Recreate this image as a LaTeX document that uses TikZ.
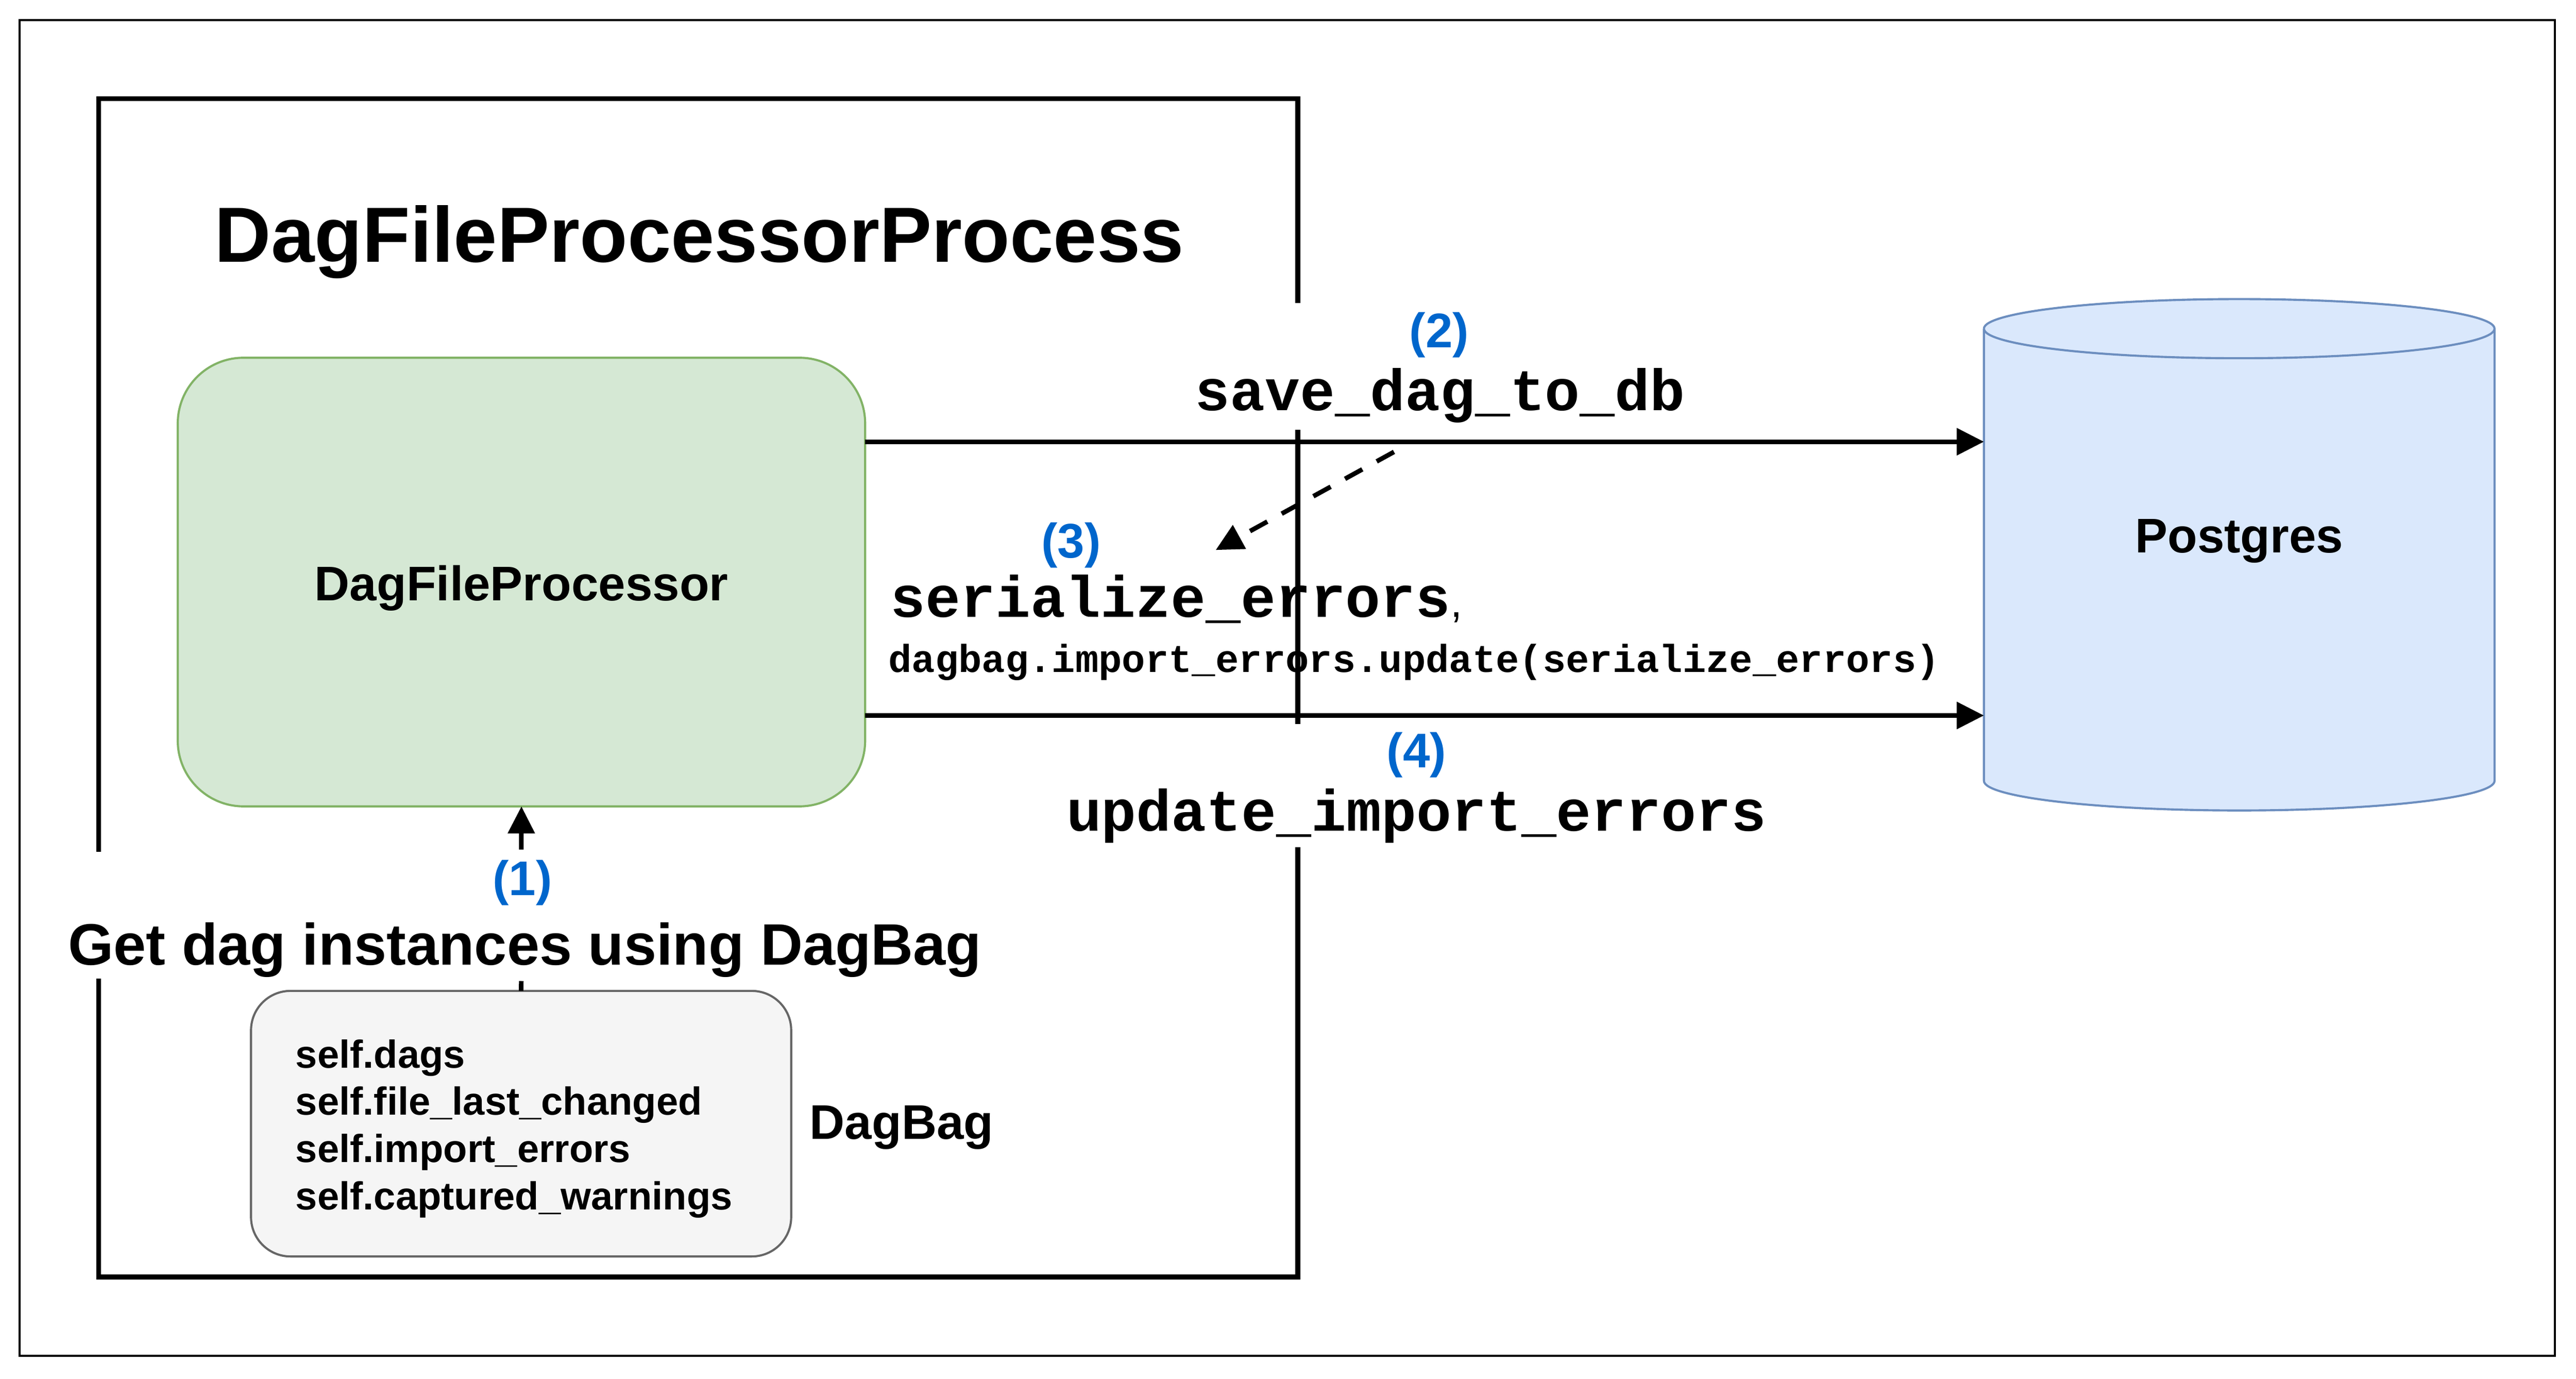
\documentclass[tikz,border=0pt]{standalone}
\usepackage{fontspec}
\setmainfont{Liberation Sans}
\newfontfamily\codefont{Liberation Mono}
\usetikzlibrary{arrows.meta}
\pgfdeclarelayer{background}
\pgfsetlayers{background,main}
\definecolor{greenfill}{HTML}{D5E8D4}
\definecolor{greenline}{HTML}{82B366}
\definecolor{bluefill}{HTML}{DAE8FC}
\definecolor{blueline}{HTML}{6C8EBF}
\definecolor{grayfill}{HTML}{F5F5F5}
\definecolor{grayline}{HTML}{666666}
\definecolor{stepblue}{HTML}{0066CC}
\begin{document}
\begin{tikzpicture}[x=1pt,y=-1pt,
  every node/.style={inner sep=0pt,outer sep=0pt},
  frame/.style={line width=3pt,line join=miter,line cap=rect},
  arr/.style={line width=2.8pt,-{Triangle[length=16.5pt,width=16pt]}},
  plainline/.style={line width=2.8pt},
  sanslabel/.style={font=\bfseries\fontsize{29.6pt}{35pt}\selectfont},
  steplabel/.style={font=\bfseries\fontsize{29.6pt}{35pt}\selectfont,text=stepblue},
  codebig/.style={font=\codefont\bfseries\fontsize{35.5pt}{42pt}\selectfont},
  codesmall/.style={font=\codefont\bfseries\fontsize{23.7pt}{28pt}\selectfont},
  procbox/.style={draw=greenline,fill=greenfill,line width=1.3pt,rounded corners=40pt,
    minimum width=418.4pt,minimum height=273pt,sanslabel,text height=22.4pt,text depth=0pt},
  bagbox/.style={draw=grayline,fill=grayfill,line width=1.3pt,rounded corners=24pt,
    minimum width=328.8pt,minimum height=161.6pt,align=left,text width=274.4pt,
    font=\bfseries\fontsize{23.8pt}{28.75pt}\selectfont},
]
\useasboundingbox (0,0) rectangle (1568,839);
% outer border
\draw[line width=1.3pt] (11.8,12.3) rectangle (1555,825.1);
% process frame (with gaps where labels sit)
\draw[frame] (790,183) -- (790,60) -- (60,60) -- (60,517);
\draw[frame] (60,597) -- (60,777) -- (790,777) -- (790,517);
\draw[frame] (790,263) -- (790,439);
\node[anchor=base west,font=\bfseries\fontsize{47.6pt}{56pt}\selectfont] (title) at (130.7,159.4) {DagFileProcessorProcess};

% nodes
\node[procbox] (dfp) at (317.4,354.2) {DagFileProcessor};
\node[bagbox] (bag) at (317.2,683.8) {\rule{0pt}{23.4pt}self.dags\\self.file\_last\_changed\\self.import\_errors\\self.captured\_warnings};
\node[sanslabel,anchor=base west] (baglabel) at (492.9,693.2) {DagBag};
\node[sanslabel,minimum width=310.8pt,minimum height=311.2pt,text height=21.6pt,text depth=24.2pt] (db) at (1363,337.6) {Postgres};
\begin{pgfonlayer}{background}
\path[fill=bluefill] ([yshift=-18pt]db.north west) -- ([yshift=18pt]db.south west)
  arc[start angle=180,end angle=360,x radius=155.4pt,y radius=18pt]
  -- ([yshift=-18pt]db.north east)
  arc[start angle=0,end angle=180,x radius=155.4pt,y radius=18pt] -- cycle;
\draw[blueline,line width=1.3pt,line join=round] ([yshift=-18pt]db.north west) -- ([yshift=18pt]db.south west)
  arc[start angle=180,end angle=360,x radius=155.4pt,y radius=18pt]
  -- ([yshift=-18pt]db.north east)
  arc[start angle=0,end angle=180,x radius=155.4pt,y radius=18pt];
\draw[blueline,line width=1.3pt] ([yshift=-18pt]db.north west)
  arc[start angle=180,end angle=360,x radius=155.4pt,y radius=18pt];
\end{pgfonlayer}

% (1) get dag instances
\coordinate (g1) at (317.3,597);
\coordinate (g2) at (317.3,517);
\draw[plainline] (bag.north) -- (g1);
\draw[arr] (g2) -- (dfp.south);
\node[steplabel,anchor=base] (s1) at (318,544.8) {(1)};
\node[anchor=base,font=\bfseries\fontsize{35.6pt}{42pt}\selectfont] (getdag) at (319.5,587.3) {Get dag instances using DagBag};

% (2) save_dag_to_db
\draw[arr] ([yshift=85.4pt]dfp.east) -- ([yshift=68.8pt]db.west);
\node[steplabel,anchor=base] (s2) at (876,211.4) {(2)};
\node[codebig,anchor=base] (save) at (876.6,249.8) {save\_dag\_to\_db};

% (3) serialize errors
\coordinate (d0) at (848.5,275);
\coordinate (d1) at (740,334.7);
\draw[arr,dash pattern=on 12pt off 10pt] (d0) -- (d1);
\node[steplabel,anchor=base] (s3) at (652,339.5) {(3)};
\node[codebig,anchor=base west] (ser) at (542.2,375.5) {serialize\_errors{\normalfont\fontsize{26pt}{30pt}\selectfont,}};
\node[codesmall,anchor=base west] (upd) at (540.8,409) {dagbag.import\_errors.update(serialize\_errors)};

% (4) update_import_errors
\draw[arr] ([yshift=-81.2pt]dfp.east) -- ([yshift=-97.8pt]db.west);
\node[steplabel,anchor=base] (s4) at (862.2,467) {(4)};
\node[codebig,anchor=base] (uie) at (862.2,505.6) {update\_import\_errors};
\end{tikzpicture}
\end{document}
